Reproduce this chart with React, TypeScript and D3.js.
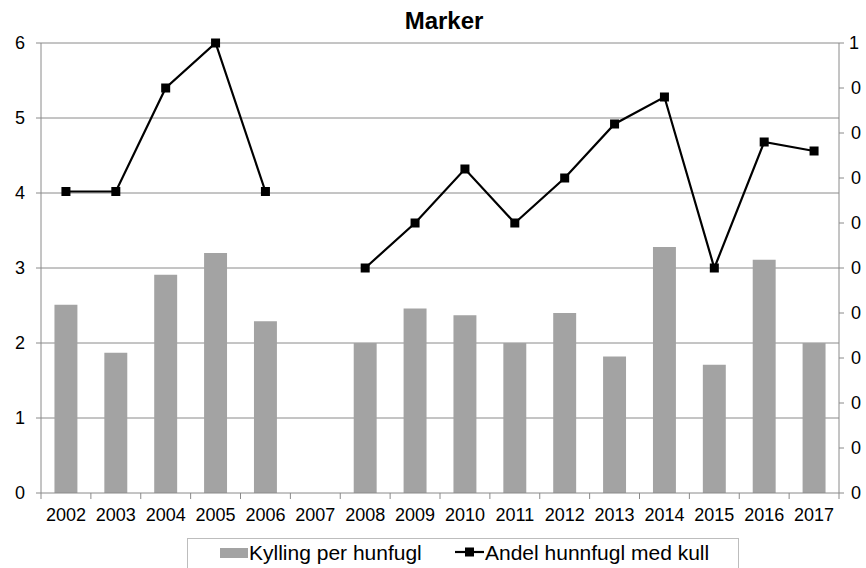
import React from "react";
import * as d3 from "d3";

const years = ["2002","2003","2004","2005","2006","2007","2008","2009","2010","2011","2012","2013","2014","2015","2016","2017"];
const kyllingPerHunfugl: (number | null)[] = [2.51, 1.87, 2.91, 3.2, 2.29, null, 2.0, 2.46, 2.37, 2.0, 2.4, 1.82, 3.28, 1.71, 3.11, 2.0];
const andelHunnfuglMedKull: (number | null)[] = [0.67, 0.67, 0.9, 1.0, 0.67, null, 0.5, 0.6, 0.72, 0.6, 0.7, 0.82, 0.88, 0.5, 0.78, 0.76];
const leftTicks = [0, 1, 2, 3, 4, 5, 6];
const rightTicks = [0, 0.1, 0.2, 0.3, 0.4, 0.5, 0.6, 0.7, 0.8, 0.9, 1];
// right-axis labels as visible in the reference (decimals cut off at the chart's edge)
const rightTickLabels = ["0", "0", "0", "0", "0", "0", "0", "0", "0", "0", "1"];
const title = "Marker";
const seriesNames = ["Kylling per hunfugl", "Andel hunnfugl med kull"];

const W = 866, H = 568;
const left = 41, right = 839, top = 43, bottom = 493;
const font = "'Liberation Sans', Arial, sans-serif";

export default function App() {
  const x = d3.scaleBand<string>().domain(years).range([left, right]).paddingInner(0).paddingOuter(0);
  const yL = d3.scaleLinear().domain([0, 6]).range([bottom, top]);
  const yR = d3.scaleLinear().domain([0, 1]).range([bottom, top]);
  const bw = x.bandwidth();
  const barW = bw * 0.46;
  const cx = (y: string) => (x(y) as number) + bw / 2;

  const pts = years.map((y, i) => ({ y, v: andelHunnfuglMedKull[i] }));
  const line = d3.line<{ y: string; v: number | null }>()
    .defined(d => d.v != null)
    .x(d => cx(d.y))
    .y(d => yR(d.v as number));

  const gridColor = "#8a8a8a";
  const barColor = "#a3a3a3";

  return (
    <svg width={W} height={H} style={{ position: "absolute", left: 0, top: 0, background: "#fff" }} fontFamily={font}>
      <rect x={0} y={0} width={W} height={H} fill="#fff" />
      <text x={444} y={29} textAnchor="middle" fontWeight="bold" fontSize={24}>{title}</text>
      {leftTicks.filter(t => t > 0).map(t => (
        <line key={t} x1={left} x2={right} y1={yL(t)} y2={yL(t)} stroke={gridColor} strokeWidth={1} />
      ))}
      {years.map((y, i) => kyllingPerHunfugl[i] == null ? null : (
        <rect key={y} x={cx(y) - barW / 2} y={yL(kyllingPerHunfugl[i] as number)} width={barW}
          height={bottom - yL(kyllingPerHunfugl[i] as number)} fill={barColor} />
      ))}
      <line x1={left} x2={left} y1={top} y2={bottom} stroke={gridColor} />
      <line x1={right} x2={right} y1={top} y2={bottom} stroke={gridColor} />
      <line x1={left} x2={right} y1={bottom} y2={bottom} stroke={gridColor} />
      {leftTicks.map(t => (
        <g key={t}>
          <line x1={left - 5} x2={left} y1={yL(t)} y2={yL(t)} stroke={gridColor} />
          <text x={25} y={yL(t)} dy="0.35em" textAnchor="end" fontSize={18}>{t}</text>
        </g>
      ))}
      {rightTicks.map((t, i) => (
        <g key={t}>
          <line x1={right} x2={right + 5} y1={yR(t)} y2={yR(t)} stroke={gridColor} />
          <text x={i === rightTicks.length - 1 ? 849 : 851} y={yR(t)} dy="0.35em" textAnchor="start" fontSize={18}>{rightTickLabels[i]}</text>
        </g>
      ))}
      {years.map(y => (
        <line key={"t" + y} x1={x(y) as number} x2={x(y) as number} y1={bottom} y2={bottom + 6} stroke={gridColor} />
      ))}
      <line x1={right} x2={right} y1={bottom} y2={bottom + 6} stroke={gridColor} />
      {years.map(y => (
        <text key={"l" + y} x={cx(y)} y={521} textAnchor="middle" fontSize={18}>{y}</text>
      ))}
      <path d={line(pts) || ""} fill="none" stroke="#000" strokeWidth={2.2} />
      {pts.filter(p => p.v != null).map(p => (
        <rect key={"m" + p.y} x={cx(p.y) - 4.5} y={yR(p.v as number) - 4.5} width={9} height={9} fill="#000" />
      ))}
      <rect x={187.5} y={538.5} width={551} height={40} fill="#fff" stroke="#bdbdbd" />
      <rect x={220} y={548} width={28} height={10} fill={barColor} />
      <text x={249} y={560} fontSize={21}>{seriesNames[0]}</text>
      <line x1={455} x2={484} y1={552} y2={552} stroke="#000" strokeWidth={2.2} />
      <rect x={465} y={547.5} width={9} height={9} fill="#000" />
      <text x={485} y={560} fontSize={21}>{seriesNames[1]}</text>
    </svg>
  );
}
